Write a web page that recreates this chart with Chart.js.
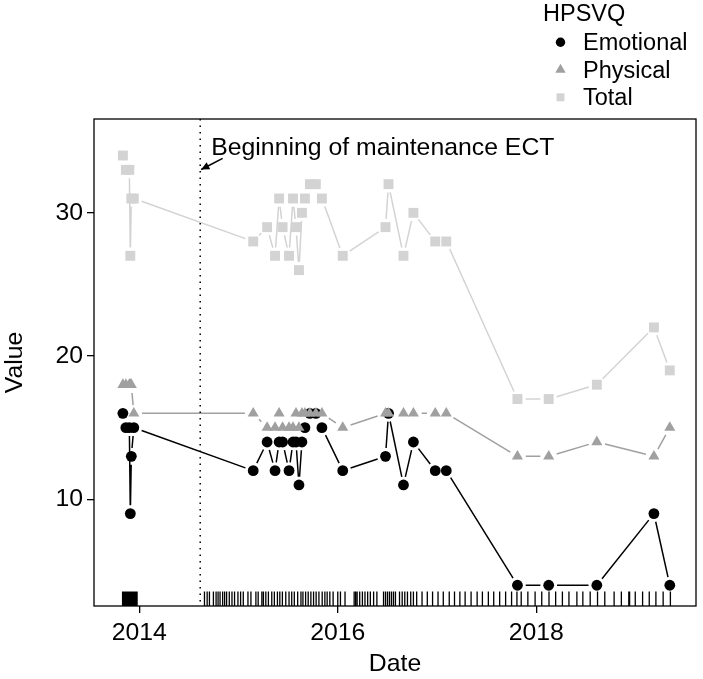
<!DOCTYPE html>
<html>
<head>
<meta charset="utf-8">
<title>HPSVQ scores and ECT sessions</title>
<script src="https://cdn.jsdelivr.net/npm/chart.js"></script>
<style>
  body { margin: 0; background: #fff; }
  #chart { display: block; }
</style>
</head>
<body>
<canvas id="chart" width="703" height="679"></canvas>
<script>
// assessment dates (decimal years) and HPSVQ scores
const dates = [
  2013.835, 2013.865, 2013.900, 2013.910, 2013.920, 2013.945,
  2015.148, 2015.288, 2015.368, 2015.409, 2015.444, 2015.509, 2015.549, 2015.579,
  2015.609, 2015.639, 2015.669, 2015.719, 2015.779, 2015.840, 2016.050,
  2016.481, 2016.511, 2016.662, 2016.762, 2016.982, 2017.093,
  2017.810, 2018.125, 2018.610, 2019.185, 2019.345
];
const emotional = [
  16, 15, 15, 9, 13, 15,
  12, 14, 12, 14, 14, 12, 14, 14,
  11, 14, 15, 16, 16, 15, 12,
  13, 16, 11, 14, 12, 12,
  4, 4, 4, 9, 4
];
const physical = [
  18, 18, 18, 18, 18, 16,
  16, 15, 15, 16, 15, 15, 15, 16,
  15, 16, 16, 16, 16, 16, 15,
  16, 16, 16, 16, 16, 16,
  13, 13, 14, 13, 15
];
const total = [
  34, 33, 33, 27, 31, 31,
  28, 29, 27, 31, 29, 27, 31, 29,
  26, 30, 31, 32, 32, 31, 27,
  29, 32, 27, 30, 28, 28,
  17, 17, 18, 22, 19
];

// ECT sessions, shown as a rug on the date axis
const ectSessions = [
  2013.832, 2013.838, 2013.843, 2013.851, 2013.857, 2013.862, 2013.870, 2013.876,
  2013.881, 2013.889, 2013.895, 2013.900, 2013.908, 2013.914, 2013.919, 2013.927,
  2013.933, 2013.938, 2013.946, 2013.952, 2013.957, 2013.965, 2013.971, 2013.978,
  2014.657, 2014.684, 2014.707, 2014.747, 2014.774, 2014.794, 2014.814, 2014.840,
  2014.860, 2014.880, 2014.907, 2014.934, 2014.960, 2014.994, 2015.021, 2015.048,
  2015.095, 2015.125, 2015.175, 2015.198, 2015.235, 2015.251, 2015.275, 2015.301,
  2015.335, 2015.361, 2015.392, 2015.416, 2015.442, 2015.476, 2015.509, 2015.536,
  2015.562, 2015.596, 2015.629, 2015.649, 2015.676, 2015.702, 2015.729, 2015.756,
  2015.782, 2015.810, 2015.843, 2015.870, 2015.893, 2015.920, 2015.953, 2016.000,
  2016.027, 2016.073, 2016.165, 2016.180, 2016.195, 2016.221, 2016.248, 2016.274,
  2016.301, 2016.328, 2016.361, 2016.394, 2016.461, 2016.481, 2016.501, 2016.521,
  2016.541, 2016.561, 2016.581, 2016.622, 2016.649, 2016.675, 2016.702, 2016.735,
  2016.762, 2016.795, 2016.849, 2016.902, 2016.955, 2017.010, 2017.063, 2017.123,
  2017.176, 2017.230, 2017.283, 2017.343, 2017.404, 2017.457, 2017.517, 2017.571,
  2017.631, 2017.691, 2017.751, 2017.805, 2017.848, 2017.915, 2017.988, 2018.055,
  2018.128, 2018.195, 2018.263, 2018.329, 2018.409, 2018.469, 2018.543, 2018.617,
  2018.690, 2018.784, 2018.857, 2018.932, 2018.940, 2018.997, 2019.071, 2019.138,
  2019.205, 2019.278, 2019.351
];
const maintenanceStart = 2014.614;
const noteText = 'Beginning of maintenance ECT';

const xTicks = [2014, 2016, 2018];
const yTicks = [10, 20, 30];

const FONT = "'Liberation Sans', Arial, Helvetica, sans-serif";
Chart.defaults.font.family = FONT;
Chart.defaults.color = '#000';

const series = [
  { label: 'Emotional', values: emotional, color: '#000000', style: 'circle', radius: 5.4, width: 1.5, legendR: 4.7, order: 3 },
  { label: 'Physical', values: physical, color: '#a0a0a0', style: 'triangle', radius: 6.4, width: 1.5, legendR: 6, order: 2 },
  { label: 'Total', values: total, color: '#d3d3d3', style: 'rect', radius: 7, width: 1.5, legendR: 5.6, order: 1 }
];

function drawMarker(ctx, style, x, y, r) {
  ctx.beginPath();
  if (style === 'circle') {
    ctx.arc(x, y, r, 0, Math.PI * 2);
  } else if (style === 'triangle') {
    for (let k = 0; k < 3; k++) {
      const a = k * 2 * Math.PI / 3;
      const px = x + Math.sin(a) * r, py = y - Math.cos(a) * r;
      if (k === 0) ctx.moveTo(px, py); else ctx.lineTo(px, py);
    }
    ctx.closePath();
  } else {
    const s = r * Math.SQRT1_2;
    ctx.rect(x - s, y - s, 2 * s, 2 * s);
  }
  ctx.fill();
}

// R-style type="b": lines stop short of each point
const gappedLines = {
  id: 'gappedLines',
  beforeDatasetDraw(chart, args) {
    const ds = chart.data.datasets[args.index];
    const pts = args.meta.data;
    const ctx = chart.ctx;
    const gap = 8.3;
    ctx.save();
    ctx.strokeStyle = ds.borderColor;
    ctx.lineWidth = ds.lineWidthB;
    ctx.beginPath();
    for (let i = 1; i < pts.length; i++) {
      const a = pts[i - 1], b = pts[i];
      const dx = b.x - a.x, dy = b.y - a.y;
      const len = Math.hypot(dx, dy);
      if (len <= 2 * gap) continue;
      const ux = dx / len, uy = dy / len;
      ctx.moveTo(a.x + ux * gap, a.y + uy * gap);
      ctx.lineTo(b.x - ux * gap, b.y - uy * gap);
    }
    ctx.stroke();
    ctx.restore();
  }
};

const extras = {
  id: 'extras',
  afterDraw(chart) {
    const ctx = chart.ctx;
    const area = chart.chartArea;
    const xs = chart.scales.x, ys = chart.scales.y;
    ctx.save();

    // rug of ECT sessions
    ctx.strokeStyle = '#000';
    ctx.lineWidth = 1.3;
    ctx.beginPath();
    ectSessions.forEach(d => {
      const px = xs.getPixelForValue(d);
      ctx.moveTo(px, area.bottom);
      ctx.lineTo(px, area.bottom - 14.6);
    });
    ctx.stroke();

    // dotted line at start of maintenance ECT
    const mx = xs.getPixelForValue(maintenanceStart);
    ctx.lineWidth = 1.5;
    ctx.setLineDash([1.5, 5]);
    ctx.beginPath();
    ctx.moveTo(mx, area.top);
    ctx.lineTo(mx, area.bottom);
    ctx.stroke();
    ctx.setLineDash([]);

    // annotation and arrow
    ctx.fillStyle = '#000';
    ctx.font = '24.8px ' + FONT;
    ctx.textAlign = 'left';
    ctx.textBaseline = 'alphabetic';
    ctx.fillText(noteText, xs.getPixelForValue(2014.725), ys.getPixelForValue(34.07));
    const tx = xs.getPixelForValue(2014.84), ty = ys.getPixelForValue(33.8);
    const hx = mx + 1, hy = ys.getPixelForValue(33.03);
    const ang = Math.atan2(hy - ty, hx - tx);
    ctx.lineWidth = 1.6;
    ctx.beginPath();
    ctx.moveTo(tx, ty);
    ctx.lineTo(hx, hy);
    ctx.stroke();
    ctx.beginPath();
    ctx.moveTo(hx - 9 * Math.cos(ang - Math.PI / 7), hy - 9 * Math.sin(ang - Math.PI / 7));
    ctx.lineTo(hx, hy);
    ctx.lineTo(hx - 9 * Math.cos(ang + Math.PI / 7), hy - 9 * Math.sin(ang + Math.PI / 7));
    ctx.closePath();
    ctx.fill();

    // plot box
    ctx.lineWidth = 1.3;
    ctx.strokeRect(area.left, area.top, area.right - area.left, area.bottom - area.top);

    // legend
    ctx.font = '23.5px ' + FONT;
    ctx.fillText('HPSVQ', 543, 21);
    series.forEach((s, i) => {
      const cy = 42.3 + i * 27.5;
      ctx.fillStyle = s.color;
      drawMarker(ctx, s.style, 560.5, cy, s.legendR);
      ctx.fillStyle = '#000';
      ctx.fillText(s.label, 583, cy + 7.8);
    });
    ctx.restore();
  }
};

new Chart(document.getElementById('chart'), {
  type: 'scatter',
  data: {
    datasets: series.map(s => ({
      label: s.label,
      data: dates.map((d, i) => ({ x: d, y: s.values[i] })),
      showLine: false,
      order: s.order,
      pointStyle: s.style,
      pointRadius: s.radius,
      pointBackgroundColor: s.color,
      pointBorderWidth: 0,
      borderColor: s.color,
      lineWidthB: s.width
    }))
  },
  options: {
    responsive: false,
    animation: false,
    events: [],
    layout: { padding: { left: 0, right: 4, top: 119, bottom: 0 } },
    plugins: { legend: { display: false }, tooltip: { enabled: false } },
    scales: {
      x: {
        type: 'linear',
        min: 2013.544,
        max: 2019.609,
        afterBuildTicks: s => { s.ticks = xTicks.map(v => ({ value: v })); },
        afterFit: s => { s.height = 73; },
        ticks: { callback: v => String(v), font: { size: 24.8 }, padding: 5, maxRotation: 0, autoSkip: false },
        grid: { drawOnChartArea: false, tickLength: 7, color: '#000', lineWidth: 1.3 },
        border: { display: false },
        title: { display: true, text: 'Date', font: { size: 24.8, lineHeight: 1 }, padding: { top: 0, bottom: 2.5 } }
      },
      y: {
        type: 'linear',
        min: 2.55,
        max: 36.55,
        afterBuildTicks: s => { s.ticks = yTicks.map(v => ({ value: v })); },
        afterFit: s => { s.width = 94; },
        ticks: { callback: v => String(v), font: { size: 24.8 }, padding: 4, autoSkip: false },
        grid: { drawOnChartArea: false, tickLength: 7, color: '#000', lineWidth: 1.3 },
        border: { display: false },
        title: { display: true, text: 'Value', font: { size: 24.8 }, padding: { top: 0, bottom: 0 } }
      }
    }
  },
  plugins: [gappedLines, extras]
});
</script>
</body>
</html>
